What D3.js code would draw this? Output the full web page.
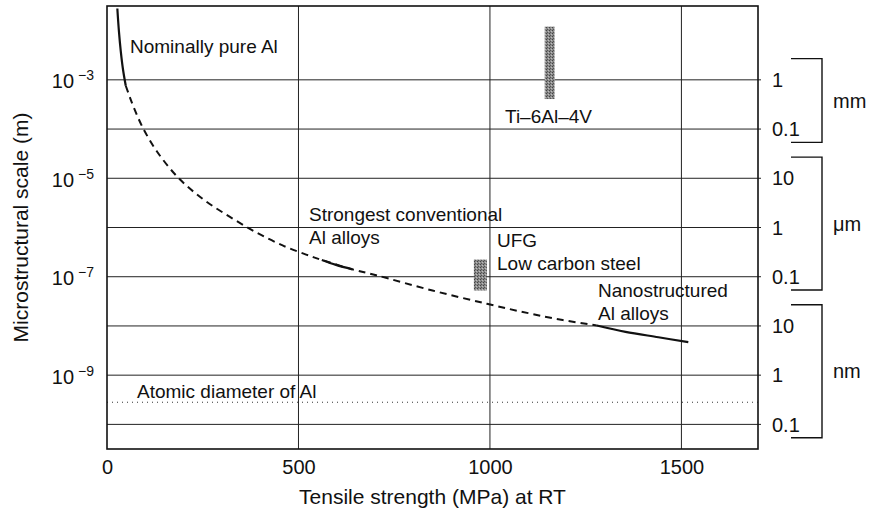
<!doctype html>
<meta charset="utf-8">
<script src="https://d3js.org/d3.v7.min.js"></script>
<style>
body { margin: 0; background: #fff; }
text { font-family: "Liberation Sans", Arial, Helvetica, sans-serif; fill: #111; }
</style>
<body>
<script>

var width = 870;
var height = 516;

// data (strength in MPa, scale as log10 of metres)
var xTicks = [0, 500, 1000, 1500];
var leftTicks = [-3, -5, -7, -9];
var gridDecades = [-3, -4, -5, -6, -7, -8, -9, -10];
var rightLabels = ["1", "0.1", "10", "1", "0.1", "10", "1", "0.1"];

var unitNames = ["mm", "\u03bcm", "nm"];
var unitTop = [-3, -5, -8];
var unitBottom = [-4, -7, -10];

var pureAlMPa = [27, 31, 36, 42, 49];
var pureAlLog = [-1.55, -2.0, -2.42, -2.8, -3.12];

var trendMPa = [49, 60, 72, 94, 130, 185, 250, 320, 390, 460, 520, 561, 641, 703, 850, 992, 1100, 1190, 1279];
var trendLog = [-3.12, -3.36, -3.6, -3.98, -4.45, -4.98, -5.42, -5.78, -6.1, -6.37, -6.55, -6.66, -6.85, -6.97, -7.28, -7.55, -7.74, -7.88, -7.99];

var convMPa = [561, 598, 641];
var convLog = [-6.66, -6.76, -6.85];

var nanoMPa = [1279, 1354, 1440, 1518];
var nanoLog = [-7.99, -8.12, -8.23, -8.33];

var atomicLog = -9.55;

var barNames = ["Ti", "UFG"];
var barMPa0 = [1143, 958];
var barMPa1 = [1169, 992];
var barLogTop = [-1.92, -6.65];
var barLogBottom = [-3.39, -7.28];

var margin = {left: 107, right: 112, top: 6, bottom: 67};
var plotW = width - margin.left - margin.right;
var plotH = height - margin.top - margin.bottom;

var svg = d3.select("body")
        .append("svg")
        .attr("width", width)
        .attr("height", height);

var defs = svg.append("defs");
var pat = defs.append("pattern")
        .attr("id", "stipple")
        .attr("width", 3)
        .attr("height", 3)
        .attr("patternUnits", "userSpaceOnUse");
pat.append("rect").attr("width", 3).attr("height", 3).attr("fill", "#8a8a8a");
pat.append("rect").attr("width", 1).attr("height", 1).attr("fill", "#444");
pat.append("rect").attr("x", 2).attr("y", 1).attr("width", 1).attr("height", 1).attr("fill", "#bdbdbd");
pat.append("rect").attr("x", 1).attr("y", 2).attr("width", 1).attr("height", 1).attr("fill", "#555");

var x = d3.scaleLinear()
        .domain([0, 1700])
        .range([margin.left, margin.left + plotW]);

var y = d3.scaleLog()
        .domain([Math.pow(10, -10.5), Math.pow(10, -1.5)])
        .range([margin.top + plotH, margin.top]);

function yl(v) { return y(Math.pow(10, v)); }

// grid
svg.append("g").selectAll("line.h")
        .data(gridDecades)
        .enter().append("line")
        .attr("x1", x(0))
        .attr("x2", x(1700) + 3)
        .attr("y1", function(d) { return yl(d); })
        .attr("y2", function(d) { return yl(d); })
        .style("stroke", "#222")
        .style("stroke-width", 1);

svg.append("g").selectAll("line.v")
        .data(xTicks.slice(1))
        .enter().append("line")
        .attr("x1", function(d) { return x(d); })
        .attr("x2", function(d) { return x(d); })
        .attr("y1", y.range()[1])
        .attr("y2", y.range()[0])
        .style("stroke", "#222")
        .style("stroke-width", 1);

// atomic diameter
svg.append("line")
        .attr("x1", x(0))
        .attr("x2", x(1700))
        .attr("y1", yl(atomicLog))
        .attr("y2", yl(atomicLog))
        .style("stroke", "#333")
        .style("stroke-width", 1)
        .style("stroke-dasharray", "1,4");

// frame
svg.append("rect")
        .attr("x", x(0))
        .attr("y", y.range()[1])
        .attr("width", plotW)
        .attr("height", plotH)
        .style("fill", "none")
        .style("stroke", "#111")
        .style("stroke-width", 1.6);

// x axis
var xAxis = svg.append("g")
        .attr("transform", "translate(0," + (y.range()[0] + 8) + ")")
        .call(d3.axisBottom(x).tickValues(xTicks).tickSize(0).tickFormat(d3.format("d")));
xAxis.select(".domain").remove();
xAxis.selectAll("text")
        .style("font-size", "20px")
        .attr("dy", "0.72em")
        .style("font-family", "'Liberation Sans', Arial, sans-serif")
        .style("fill", "#111");

// left axis, powers of ten
var yAxis = svg.append("g")
        .attr("transform", "translate(" + (x(0) - 13) + ",0)")
        .call(d3.axisLeft(y).tickValues(leftTicks.map(function(d) { return Math.pow(10, d); })).tickSize(0));
yAxis.select(".domain").remove();
yAxis.selectAll("text")
        .style("font-size", "20px")
        .style("font-family", "'Liberation Sans', Arial, sans-serif")
        .style("fill", "#111")
        .attr("x", 0)
        .attr("dy", "0.4em")
        .each(function(d, i) {
            var t = d3.select(this).text("");
            t.append("tspan").text("10");
            t.append("tspan")
                .attr("dx", 4)
                .attr("dy", -8)
                .style("font-size", "14px")
                .text("\u2212" + (-leftTicks[i]));
        });

// right unit scale
svg.append("g").selectAll("text")
        .data(rightLabels)
        .enter().append("text")
        .attr("x", x(1700) + 14)
        .attr("y", function(d, i) { return yl(gridDecades[i]); })
        .attr("dy", "0.36em")
        .style("font-size", "20px")
        .text(function(d) { return d; });

var bx0 = x(1700) + 33;
var bx1 = x(1700) + 64;
unitNames.forEach(function(u, i) {
    var top = yl(unitTop[i] + 0.43);
    var bot = yl(unitBottom[i] - 0.27);
    svg.append("path")
            .attr("d", "M" + bx0 + "," + top + "H" + bx1 + "V" + bot + "H" + bx0)
            .style("fill", "none")
            .style("stroke", "#111")
            .style("stroke-width", 1.4);
    svg.append("text")
            .attr("x", bx1 + 11)
            .attr("y", (top + bot) / 2)
            .attr("dy", "0.36em")
            .style("font-size", "20px")
            .text(u);
});

// curves
function curve(xs, ys) {
    return d3.line()
            .x(function(d, i) { return x(xs[i]); })
            .y(function(d, i) { return yl(ys[i]); })
            .curve(d3.curveCatmullRom)(xs);
}

svg.append("path")
        .attr("d", curve(trendMPa, trendLog))
        .style("fill", "none")
        .style("stroke", "#111")
        .style("stroke-width", 2)
        .style("stroke-dasharray", "7,5");

[[pureAlMPa, pureAlLog], [convMPa, convLog], [nanoMPa, nanoLog]].forEach(function(s) {
    svg.append("path")
            .attr("d", curve(s[0], s[1]))
            .style("fill", "none")
            .style("stroke", "#111")
            .style("stroke-width", 2.2);
});

// material bars
svg.append("g").selectAll("rect")
        .data(barNames)
        .enter().append("rect")
        .attr("x", function(d, i) { return x(barMPa0[i]); })
        .attr("width", function(d, i) { return x(barMPa1[i]) - x(barMPa0[i]); })
        .attr("y", function(d, i) { return yl(barLogTop[i]); })
        .attr("height", function(d, i) { return yl(barLogBottom[i]) - yl(barLogTop[i]); })
        .style("fill", "url(#stipple)");

// annotations
var notes = [
    ["Nominally pure Al", 130, 53],
    ["Ti\u20136Al\u20134V", 505, 123],
    ["Strongest conventional", 309, 221],
    ["Al alloys", 309, 244],
    ["UFG", 497, 247],
    ["Low carbon steel", 497, 270],
    ["Nanostructured", 598, 297],
    ["Al alloys", 598, 320],
    ["Atomic diameter of Al", 137, 398]
];
svg.append("g").selectAll("text")
        .data(notes)
        .enter().append("text")
        .attr("x", function(d) { return d[1]; })
        .attr("y", function(d) { return d[2]; })
        .style("font-size", "19px")
        .text(function(d) { return d[0]; });

// axis titles
svg.append("text")
        .attr("x", (x(0) + x(1700)) / 2)
        .attr("y", 504)
        .attr("text-anchor", "middle")
        .style("font-size", "21px")
        .text("Tensile strength (MPa) at RT");

svg.append("text")
        .attr("transform", "translate(28," + ((y.range()[0] + y.range()[1]) / 2) + ") rotate(-90)")
        .attr("text-anchor", "middle")
        .style("font-size", "21px")
        .text("Microstructural scale (m)");

</script>
